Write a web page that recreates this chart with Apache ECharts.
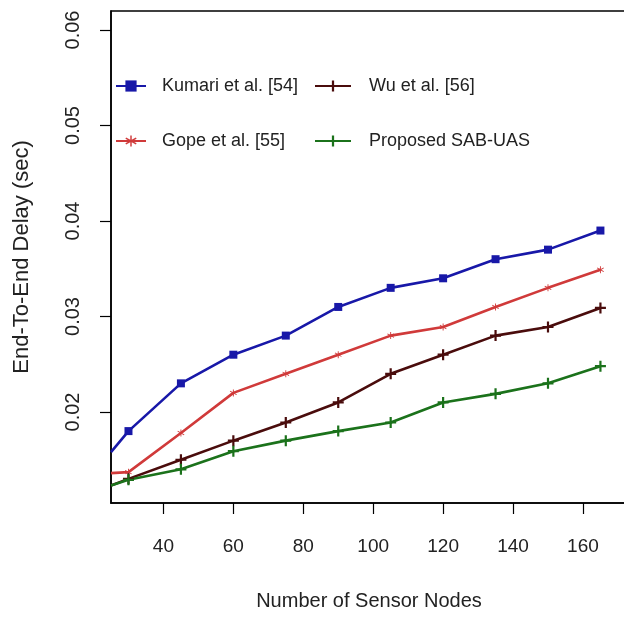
<!DOCTYPE html>
<html>
<head>
<meta charset="utf-8">
<script src="https://cdn.jsdelivr.net/npm/echarts@6/dist/echarts.min.js"></script>
<style>html,body{margin:0;padding:0;background:#fff}#c{width:624px;height:618px}</style>
</head>
<body>
<div id="c"></div>
<script>
var xValues = [25, 30, 45, 60, 75, 90, 105, 120, 135, 150, 165];
var kumari = [0.0158, 0.0180, 0.0230, 0.0260, 0.0280, 0.0310, 0.0330, 0.0340, 0.0360, 0.0370, 0.0390];
var gope = [0.0136, 0.0137, 0.0178, 0.0220, 0.0240, 0.0260, 0.0280, 0.0289, 0.0310, 0.0330, 0.0349];
var wu = [0.0123, 0.0130, 0.0150, 0.0170, 0.0189, 0.0210, 0.0240, 0.0260, 0.0280, 0.0289, 0.0309];
var proposed = [0.0123, 0.0129, 0.0140, 0.0159, 0.0170, 0.0180, 0.0189, 0.0210, 0.0219, 0.0230, 0.0248];
var xTicks = [40, 60, 80, 100, 120, 140, 160];
var yTicks = [0.02, 0.03, 0.04, 0.05, 0.06];
var names = ['Kumari et al. [54]', 'Gope et al. [55]', 'Wu et al. [56]', 'Proposed SAB-UAS'];

var plusPath = 'path://M4,0h2v4h4v2h-4v4h-2v-4h-4v-2h4z';
var starPath = 'path://M4.4,0h1.2v3.9l3.4,-2l0.6,1l-3.4,2.1l3.4,2.1l-0.6,1l-3.4,-2v3.9h-1.2v-3.9l-3.4,2l-0.6,-1l3.4,-2.1l-3.4,-2.1l0.6,-1l3.4,2z';

function pts(arr) {
  return arr.map(function (v, i) {
    var d = { value: [xValues[i], v] };
    if (i === 0) d.symbol = 'none';
    return d;
  });
}
function mk(name, arr, color, symbol, size) {
  return {
    name: name, type: 'line', data: pts(arr),
    symbol: symbol, symbolSize: size, showSymbol: true,
    lineStyle: { color: color, width: 2.6 },
    itemStyle: { color: color },
    emphasis: { disabled: true },
    animation: false, clip: true
  };
}
var chart = echarts.init(document.getElementById('c'), null, { renderer: 'canvas' });
var font = 'Liberation Sans, Arial, sans-serif';
chart.setOption({
  backgroundColor: '#fff',
  animation: false,
  grid: { left: 111, top: 11, right: -3, bottom: 115, show: true, borderColor: '#000', borderWidth: 1.5,
    backgroundColor: '#fff', outerBoundsMode: 'none', containLabel: false },
  legend: [
    { data: [names[0], names[1]], left: 110, top: 72, orient: 'vertical', itemWidth: 30, itemHeight: 14, itemGap: 37,
      textStyle: { fontFamily: font, fontSize: 18, color: '#222', padding: [0, 0, 0, 11] } },
    { data: [names[2], names[3]], left: 309, top: 72, orient: 'vertical', itemWidth: 36, itemHeight: 14, itemGap: 37,
      textStyle: { fontFamily: font, fontSize: 18, color: '#222', padding: [0, 0, 0, 13] } }
  ],
  xAxis: {
    type: 'value', min: 25, max: 172.6,
    name: 'Number of Sensor Nodes', nameLocation: 'middle', nameGap: 88,
    nameTextStyle: { fontFamily: font, fontSize: 20, color: '#222' },
    axisLine: { show: true, onZero: false, lineStyle: { color: '#000', width: 1.5 } },
    axisTick: { show: true, length: 11, customValues: xTicks, lineStyle: { color: '#000', width: 1.2 } },
    axisLabel: { customValues: xTicks, fontFamily: font, fontSize: 19, color: '#222', margin: 34 },
    splitLine: { show: false }
  },
  yAxis: {
    type: 'value', min: 0.010471, max: 0.06199,
    name: 'End-To-End Delay (sec)', nameLocation: 'middle', nameGap: 78, nameRotate: 90,
    nameTextStyle: { fontFamily: font, fontSize: 22, color: '#222' },
    axisLine: { show: true, onZero: false, lineStyle: { color: '#000', width: 1.5 } },
    axisTick: { show: true, length: 11, customValues: yTicks, lineStyle: { color: '#000', width: 1.2 } },
    axisLabel: { customValues: yTicks, rotate: 90, fontFamily: font, fontSize: 20, color: '#222', margin: 28,
      formatter: function (v) { return v.toFixed(2); } },
    splitLine: { show: false }
  },
  series: [
    mk(names[0], kumari, '#1818a8', 'rect', 8),
    mk(names[1], gope, '#d03a3a', starPath, 7),
    mk(names[2], wu, '#4a0c0c', plusPath, 11),
    mk(names[3], proposed, '#1b721b', plusPath, 11)
  ]
});
</script>
</body>
</html>
